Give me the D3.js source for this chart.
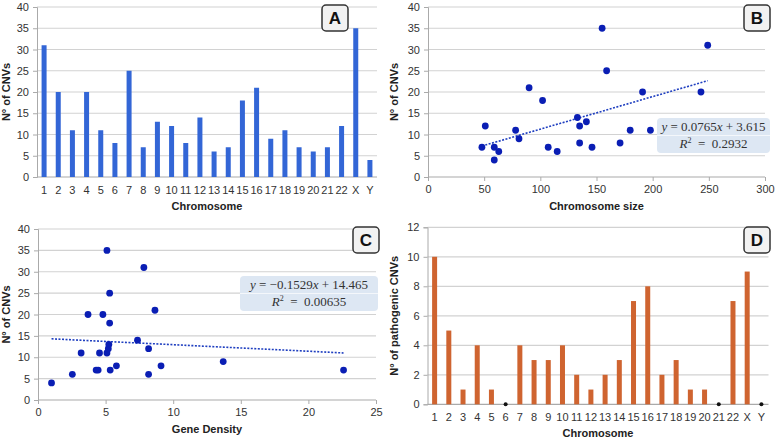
<!DOCTYPE html>
<html>
<head>
<meta charset="utf-8">
<script src="https://cdn.jsdelivr.net/npm/d3@7"></script>
<style>
  body { margin: 0; background: #fff; }
  svg { font-family: "Liberation Sans", Arial, sans-serif; }
  .tick text { fill: #333; font-size: 11px; }
  .title { font-weight: bold; font-size: 11px; fill: #222; }
  .eq { font-family: "Liberation Serif", "DejaVu Serif", serif; font-size: 13px; fill: #333; }
</style>
</head>
<body>
<svg id="chart" width="778" height="440"></svg>
<script>
// chromosomes (shared by A and D)
var chromosomes = ["1","2","3","4","5","6","7","8","9","10","11","12","13","14","15","16","17","18","19","20","21","22","X","Y"];
// A: number of CNVs per chromosome
var cnvCounts = [31,20,11,20,11,8,25,7,13,12,8,14,6,7,18,21,9,11,7,6,7,12,35,4];
// D: pathogenic CNVs per chromosome
var pathogenicCounts = [10,5,1,4,1,0,4,3,3,4,2,1,2,3,7,8,2,3,1,1,0,7,9,0];
// B: chromosome size vs CNVs
var sizeX = [48,51,59,59,63,78,81,90,102,107,115,133,135,135,141,146,155,159,171,180,191,198,243,249];
var sizeY = [7,12,7,4,6,11,9,21,18,7,6,14,12,8,13,7,35,25,8,11,20,11,20,31];
var sizeFit = {slope: 0.0765, intercept: 3.615, r2: "0.2932", from: 48, to: 249};
// C: gene density vs CNVs
var densX = [1.0,2.54,3.19,3.7,4.3,4.45,4.55,4.8,5.1,5.1,5.2,5.24,5.3,5.3,5.34,5.8,7.36,7.83,8.18,8.18,8.65,9.1,13.7,22.6];
var densY = [4,6,11,20,7,7,11,20,35,11,12,13,25,18,7,8,14,31,12,6,21,8,9,7];
var densFit = {slope: -0.1529, intercept: 14.465, r2: "0.00635", from: 1.0, to: 22.6};

var svg = d3.select("#chart");

function yAxis(g, y, left, right, ticks) {
  // grid lines
  g.append("g").selectAll("line").data(ticks.filter(function(d){ return d > 0; }))
    .enter().append("line")
    .attr("x1", left).attr("x2", right)
    .attr("y1", function(d){ return y(d); }).attr("y2", function(d){ return y(d); })
    .attr("stroke", "#d2d2d2").attr("stroke-width", 1.2);
  var ax = g.append("g").attr("transform", "translate(" + left + ",0)")
    .call(d3.axisLeft(y).tickValues(ticks).tickSize(4).tickPadding(4));
  ax.select(".domain").attr("stroke", "#aaa");
  ax.selectAll(".tick line").attr("stroke", "#aaa");
  // baseline
  g.append("line").attr("x1", left).attr("x2", right)
    .attr("y1", y(0)).attr("y2", y(0)).attr("stroke", "#aaa").attr("stroke-width", 1.2);
}

function yTitle(g, x, yc, text) {
  g.append("text").attr("class", "title")
    .attr("transform", "translate(" + x + "," + yc + ") rotate(-90)")
    .attr("text-anchor", "middle").text(text);
}

function xTitle(g, xc, y, text) {
  g.append("text").attr("class", "title").attr("x", xc).attr("y", y)
    .attr("text-anchor", "middle").text(text);
}

function letterBox(g, x, y, letter) {
  g.append("rect").attr("x", x).attr("y", y).attr("width", 26).attr("height", 26)
    .attr("rx", 4).attr("fill", "#f2f2f2").attr("stroke", "#333").attr("stroke-width", 1.5);
  g.append("text").attr("x", x + 13).attr("y", y + 19).attr("text-anchor", "middle")
    .attr("font-weight", "bold").attr("font-size", "17px").attr("fill", "#111").text(letter);
}

function barPanel(opt) {
  var g = svg.append("g");
  var x = d3.scaleBand().domain(chromosomes).range([opt.left, opt.right]);
  var y = d3.scaleLinear().domain([0, opt.max]).range([opt.bottom, opt.top]);
  yAxis(g, y, opt.left, opt.right, d3.range(0, opt.max + 1, opt.step));
  var xa = g.append("g").attr("transform", "translate(0," + opt.bottom + ")")
    .call(d3.axisBottom(x).tickSize(0).tickPadding(9));
  xa.select(".domain").remove();
  var rows = opt.values.map(function(d, i){ return {v: d, c: chromosomes[i]}; });
  g.selectAll("rect.bar").data(rows.filter(function(d){ return d.v > 0; }))
    .enter().append("rect").attr("class", "bar")
    .attr("x", function(d){ return x(d.c) + x.bandwidth() / 2 - 2.5; })
    .attr("width", 5)
    .attr("y", function(d){ return y(d.v); })
    .attr("height", function(d){ return y(0) - y(d.v); })
    .attr("fill", opt.color);
  if (opt.zeroDots) {
    g.selectAll("circle.zero").data(rows.filter(function(d){ return d.v === 0; }))
      .enter().append("circle").attr("class", "zero")
      .attr("cx", function(d){ return x(d.c) + x.bandwidth() / 2; })
      .attr("cy", y(0)).attr("r", 2).attr("fill", "#111");
  }
  yTitle(g, opt.ytx, (opt.top + opt.bottom) / 2, opt.ytitle);
  xTitle(g, (opt.left + opt.right) / 2, opt.bottom + 33, "Chromosome");
  letterBox(g, opt.boxX, opt.boxY, opt.letter);
}

function scatterPanel(opt) {
  var g = svg.append("g");
  var x = d3.scaleLinear().domain([0, opt.xmax]).range([opt.left, opt.right]);
  var y = d3.scaleLinear().domain([0, 40]).range([opt.bottom, opt.top]);
  yAxis(g, y, opt.left, opt.right, d3.range(0, 41, 5));
  var xa = g.append("g").attr("transform", "translate(0," + opt.bottom + ")")
    .call(d3.axisBottom(x).tickValues(opt.xticks).tickSize(4).tickPadding(4));
  xa.select(".domain").remove();
  xa.selectAll(".tick line").attr("stroke", "#aaa");
  // trendline
  var f = opt.fit;
  g.append("line")
    .attr("x1", x(f.from)).attr("y1", y(f.slope * f.from + f.intercept))
    .attr("x2", x(f.to)).attr("y2", y(f.slope * f.to + f.intercept))
    .attr("stroke", "#1f3fc0").attr("stroke-width", 1.6).attr("stroke-dasharray", "2,1.5");
  g.selectAll("circle.pt").data(opt.xs).enter().append("circle").attr("class", "pt")
    .attr("cx", function(d){ return x(d); })
    .attr("cy", function(d, i){ return y(opt.ys[i]); })
    .attr("r", 3.4).attr("fill", "#0a1eb4");
  // equation box
  var b = opt.eqBox;
  g.append("rect").attr("x", b.x).attr("y", b.y).attr("width", b.w).attr("height", b.h)
    .attr("rx", 4).attr("fill", "#dde7f3");
  g.append("line").attr("x1", b.x).attr("x2", b.x + b.w)
    .attr("y1", b.y + b.h / 2).attr("y2", b.y + b.h / 2).attr("stroke", "#f4f7fb").attr("stroke-width", 1.2);
  var t1 = g.append("text").attr("class", "eq").attr("x", b.x + b.w / 2).attr("y", b.y + b.h / 4 + 4)
    .attr("text-anchor", "middle").attr("xml:space", "preserve");
  t1.append("tspan").attr("font-style", "italic").text("y");
  t1.append("tspan").text(opt.eq1);
  t1.append("tspan").attr("font-style", "italic").text("x");
  t1.append("tspan").text(opt.eq2);
  var t2 = g.append("text").attr("class", "eq").attr("x", b.x + b.w / 2).attr("y", b.y + 3 * b.h / 4 + 4)
    .attr("text-anchor", "middle").attr("xml:space", "preserve");
  t2.append("tspan").attr("font-style", "italic").text("R");
  t2.append("tspan").attr("font-size", "8px").attr("dy", -5).text("2");
  t2.append("tspan").attr("dy", 5).text("  =  " + f.r2);
  yTitle(g, opt.ytx, (opt.top + opt.bottom) / 2, "N° of CNVs");
  xTitle(g, (opt.left + opt.right) / 2, opt.bottom + 33, opt.xtitle);
  letterBox(g, opt.boxX, opt.boxY, opt.letter);
}

barPanel({values: cnvCounts, max: 40, step: 5, left: 37, right: 377, top: 7, bottom: 177,
  color: "#3366d6", ytitle: "N° of CNVs", ytx: 10, letter: "A", boxX: 322, boxY: 5});

scatterPanel({xs: sizeX, ys: sizeY, fit: sizeFit, xmax: 300, xticks: d3.range(0, 301, 50),
  left: 428, right: 765, top: 7, bottom: 177, xtitle: "Chromosome size", ytx: 398,
  eqBox: {x: 657, y: 118, w: 113, h: 35}, eq1: " = 0.0765", eq2: " + 3.615",
  letter: "B", boxX: 744, boxY: 5});

scatterPanel({xs: densX, ys: densY, fit: densFit, xmax: 25, xticks: d3.range(0, 26, 5),
  left: 38, right: 376, top: 229, bottom: 400, xtitle: "Gene Density", ytx: 10,
  eqBox: {x: 240, y: 276, w: 138, h: 35}, eq1: " = −0.1529", eq2: " + 14.465",
  letter: "C", boxX: 353, boxY: 227});

barPanel({values: pathogenicCounts, max: 12, step: 2, left: 427.5, right: 768.5, top: 227.3, bottom: 404.3,
  color: "#cf6430", ytitle: "N° of pathogenic CNVs", ytx: 398, letter: "D", boxX: 744, boxY: 227, zeroDots: true});
</script>
</body>
</html>
